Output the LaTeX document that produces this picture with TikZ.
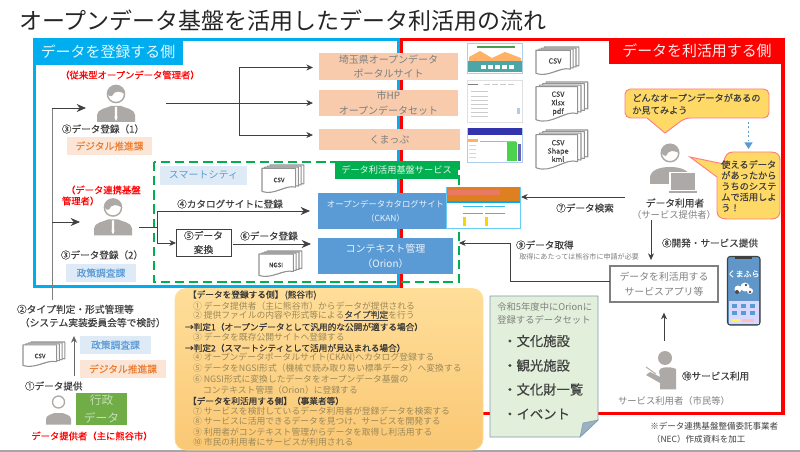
\documentclass[tikz,border=0pt]{standalone}
\usepackage{fontspec}
\setmainfont{Noto Sans CJK JP}
\newfontface\medf[FakeBold=0.35]{Noto Sans CJK JP}
\usetikzlibrary{arrows.meta,calc}
\definecolor{frameblue}{HTML}{00AEEF}
\definecolor{framered}{HTML}{FF0000}
\definecolor{peach}{HTML}{F7CBAC}
\definecolor{paleorange}{HTML}{FBE5D6}
\definecolor{paleblue}{HTML}{DEEBF7}
\definecolor{midblue}{HTML}{5B9BD5}
\definecolor{dkorange}{HTML}{ED7D31}
\definecolor{cgreen}{HTML}{00B050}
\definecolor{iconGray}{HTML}{ADA9A7}
\definecolor{txt}{HTML}{404040}
\definecolor{softtxt}{HTML}{7F7F7F}
\definecolor{paneltxt}{HTML}{9C8858}
\definecolor{bubble}{HTML}{FFD966}
\definecolor{bubbleedge}{HTML}{FF7C80}
\definecolor{panTop}{HTML}{FFDE99}
\definecolor{panBot}{HTML}{FAC875}
\definecolor{noteFill}{HTML}{E2EFDA}
\definecolor{noteEdge}{HTML}{7F9DB0}
\definecolor{adminGreen}{HTML}{70AD47}
\newcommand\fz[2]{\fontsize{#1}{#2}\selectfont}
\tikzset{
  sz/.style 2 args={minimum width=#1*0.75pt,minimum height=#2*0.75pt,inner sep=0pt,outer sep=0pt},
  peachbox/.style={fill=peach,align=center,text=softtxt,font=\fz{7.5}{11}},
  cblue/.style={fill=midblue,align=center,text=white!88!midblue,font=\fz{7}{10.5}},
  lbl/.style={inner sep=0pt,outer sep=0pt,text=txt,font=\fz{7.2}{10}\medf},
  redlbl/.style={inner sep=0pt,outer sep=0pt,text=framered,font=\fz{7}{10}\medf,align=left},
  deptblue/.style={fill=paleblue,text=midblue,font=\fz{7.3}{10}\medf},
  deptorange/.style={fill=paleorange,text=dkorange,font=\fz{7.3}{10}\medf},
  pline/.style={inner sep=0pt,outer sep=0pt,anchor=west,text=paneltxt,font=\fz{6.6}{8}},
  phead/.style={inner sep=0pt,outer sep=0pt,anchor=west,text=txt!85!black,font=\fz{6.5}{8}\medf},
  conn/.style={draw=txt,line width=0.6pt},
  arr/.style={conn,-{Stealth[length=5pt,width=4.5pt]}},
  bigarr/.style={conn,-{Stealth[length=7pt,width=6pt]}},
}
% stack of documents: x, y, w, h of the whole stack
\newcommand\docstack[4]{%
 \begin{scope}[shift={(#1,#2)},xscale=#3,yscale=#4]
  \foreach \i in {3,2,1,0}{
   \draw[fill=white,draw=gray!85,line width=0.8pt,line join=round]
     ($(0,0.12)+\i*(0.065,-0.04)$) -- ($(0.8,0.12)+\i*(0.065,-0.04)$) -- ($(0.8,0.82)+\i*(0.065,-0.04)$)
     .. controls ($(0.55,0.72)+\i*(0.065,-0.04)$) and ($(0.3,1.14)+\i*(0.065,-0.04)$) .. ($(0,0.98)+\i*(0.065,-0.04)$) -- cycle;
  }
 \end{scope}}
% business person
\newcommand\suitman[2]{%
 \begin{scope}[shift={(#1,#2)}]
  \fill[iconGray] (-19,28) -- (-19,21) .. controls (-19,15) and (-9,14) .. (-5,12) -- (5,12) .. controls (9,14) and (19,15) .. (19,21) -- (19,28) -- cycle;
  \fill[white] (-1,13) -- (1,13) -- (1.3,24) -- (0,27) -- (-1.3,24) -- cycle;
  \draw[fill=white,draw=iconGray,line width=1.1pt] (0,0) circle (8.6);
  \fill[iconGray] (-8.6,0) arc (180:360:8.6) .. controls (5,-3) and (-2,-4) .. (-4,2) .. controls (-5,3) and (-7,2) .. cycle;
 \end{scope}}
\begin{document}
\begin{tikzpicture}[x=0.75pt,y=-0.75pt]
\useasboundingbox (0,0) rectangle (800,452);
\fill[white] (0,0) rectangle (800,452);
\fill[gray!70] (0,450.3) rectangle (800,452);

% title
\node[inner sep=0pt,anchor=west,text=black!85,font=\fz{17.25}{20}] (title) at (19,21) {オープンデータ基盤を活用したデータ利活用の流れ};

% frames
\draw[framered,line width=2.3pt] (401,39.5) rectangle (783,413.5);
\draw[frameblue,line width=2.3pt] (34.5,39.5) rectangle (398.5,286.5);
\node[sz={150}{27},fill=frameblue,anchor=north west,text=white!90!frameblue,font=\fz{11.2}{14}] (regside) at (33,38) {データを登録する側};
\node[sz={176}{26},fill=framered,anchor=north east,text=white!92!red,font=\fz{11.2}{14}] (useside) at (785,38) {データを利活用する側};

% portal boxes
\node[sz={139}{27},peachbox] (portal) at (388.5,66.5) {埼玉県オープンデータ\\ポータルサイト};
\node[sz={139}{26},peachbox] (cityhp) at (388.5,103) {市HP\\オープンデータセット};
\node[sz={141}{21},peachbox] (kuma) at (389.5,139.5) {くまっぷ};

% thumbnails
\draw[fill=white,draw=midblue!50,line width=0.5pt] (467,43) rectangle (522,73);
\fill[green!45!black!70] (477,46) rectangle (515,48);
\fill[orange!60] (469,57) -- (480,51) -- (492,58) -- (505,52) -- (521,58) -- (521,61) -- (469,61) -- cycle;
\fill[teal!70] (467.5,61) rectangle (521.5,72.5);
\foreach \xx in {481,488,495,502,509} \fill[white] (\xx,65) rectangle ++(5,4);
\draw[fill=white,draw=gray!25,line width=0.4pt] (467,80) rectangle (522,122);
\fill[black!50] (468,84) rectangle (478,85.5);
\foreach \yy in {91,96,100,104,108,112,116} \fill[gray!40] (471,\yy) rectangle (488,\yy+1);
\foreach \xx in {484,492,500,508} \fill[gray!40] (\xx,84) rectangle ++(6,1);
\fill[midblue!50] (517,108) rectangle (520,114);
\draw[fill=white,draw=midblue!50,line width=0.5pt] (467,128) rectangle (522,162);
\fill[blue!60!black!80] (467.5,128.5) rectangle (521.5,135);
\fill[orange!60] (468,139) rectangle (478,142);
\foreach \yy in {145,149,153,157} \fill[yellow!40!gray!50] (469,\yy) rectangle (476,\yy+1.5);
\fill[green!75!black!70] (507,142) rectangle (517,161);
\fill[gray!60] (480,141) rectangle (516,142);
\fill[blue!50!black!60] (518,144) rectangle (521,161);

% doc stacks
\docstack{536}{47}{43}{27}
\node[inner sep=0pt,text=txt,font=\fz{5.4}{7}\medf] (d1) at (555,61) {CSV};
\docstack{536}{82}{52}{38.5}
\node[inner sep=0pt,text=txt,align=center,font=\fz{5.4}{6.4}\medf] (d2) at (558,103.5) {CSV\\Xlsx\\pdf};
\docstack{536}{130}{52}{38.5}
\node[inner sep=0pt,text=txt,align=center,font=\fz{5.4}{6.2}\medf] (d3) at (558,151) {CSV\\Shape\\kml};

% registrant 1
\node[redlbl] (r1) at (130,75) {（従来型オープンデータ管理者）};
\suitman{116}{94}
\coordinate (p1in) at (86,108);
\coordinate (p1out) at (166,103);
\coordinate (j1) at (239,103);
\node[lbl] (s31) at (103,129) {③データ登録（1）};
\node[sz={85}{18},deptorange] (dept1) at (109.5,146) {デジタル推進課};
\coordinate (a1) at (313,67.5);
\coordinate (a2) at (313,103);
\coordinate (a3) at (313,135);
\coordinate (j1t) at (239,67.5);
\coordinate (j1b) at (239,135);
\draw[conn] (p1out) -- (j1);
\draw[arr] (j1t) -- (a1);
\draw[arr] (j1) -- (a2);
\draw[arr] (j1b) -- (a3);
\draw[conn] (j1t) -- (j1b);

% smart city frame
\draw[cgreen,line width=1.5pt,dash pattern=on 7pt off 3.6pt] (154,162) rectangle (458.5,282.5);
\node[sz={123}{18},fill=cgreen,anchor=north west,text=white!90!cgreen,font=\fz{6.9}{9}] (base) at (335,161) {データ利活用基盤サービス};
\node[sz={87}{19},fill=paleblue,text=midblue,font=\fz{7.5}{10}] (smart) at (203.5,175.5) {スマートシティ};
\docstack{262}{165}{42}{27}
\node[inner sep=0pt,text=txt,font=\fz{4.6}{6}\medf] (d4) at (279,180) {CSV};
\docstack{259}{251}{43}{25}
\node[inner sep=0pt,text=txt,font=\fz{4.6}{6}\medf] (d5) at (276,265) {NGSI};

% registrant 2
\node[redlbl,anchor=west] (r2a) at (66,190) {（データ連携基盤};
\node[redlbl,anchor=west] (r2b) at (62,201) {管理者）};
\suitman{113}{207.5}
\coordinate (p2in) at (80,222);
\coordinate (p2out) at (139,227);
\coordinate (j2) at (157,227);
\node[lbl] (s32) at (102,255) {③データ登録（2）};
\node[sz={70}{18},deptblue] (dept2) at (101,273) {政策調査課};

% central boxes
\node[sz={135}{36},cblue,font=\fz{6.3}{10.5}] (ckan) at (385.5,211.5) {オープンデータカタログサイト\\（CKAN）};
\node[sz={135}{36},cblue,font=\fz{7.5}{11}] (orion) at (385.5,256.5) {コンテキスト管理\\（Orion）};
\node[sz={55}{27},draw=txt,line width=0.6pt,fill=white,align=center,text=txt,font=\fz{7.3}{10.5}\medf] (conv) at (203.5,242.5) {⑤データ\\変換};
\coordinate (j2t) at (157,211);
\coordinate (j2b) at (157,243);
\draw[conn] (p2out) -- (j2);
\draw[conn] (j2t) -- (j2b);
\draw[bigarr,shorten >=6pt] (j2t) -- (ckan.west |- j2t);
\draw[arr] (j2b) -- (conv.west |- j2b);
\coordinate (c6) at (233,244);
\coordinate (c6e) at (311,244);
\draw[bigarr] (c6) -- (c6e);
\node[lbl] (s4) at (230,204) {④カタログサイトに登録};
\node[lbl] (s6) at (269,236) {⑥データ登録};

% ckan thumb
\node[sz={74}{41},draw=frameblue!60,line width=0.6pt,fill=white] (ckanimg) at (483,207.5) {};
\fill[orange!50!brown] (446.5,187.5) rectangle (519.5,201);
\fill[red!50!brown!70] (448,190) rectangle (500,195);
\fill[frameblue] (446.5,201) rectangle (519.5,203);
\foreach \xx in {463,485} {\fill[frameblue!80] (\xx,206) rectangle ++(20,1.5); \fill[frameblue!80] (\xx,213) rectangle ++(20,1.5);
 \fill[yellow!70!orange] (\xx,217) rectangle ++(3,9);}

% left trunk
\coordinate (trunk) at (52,300);
\coordinate (trunkm) at (52,222);
\coordinate (trunkt) at (52,108);
\draw[draw=softtxt,line width=0.6pt] (trunk) -- (trunkt);
\draw[bigarr] (trunkt) -- (p1in);
\draw[bigarr] (trunkm) -- (p2in);

% lower left
\node[lbl,anchor=west,align=left,font=\fz{7.3}{10}\medf] (s2) at (17,316) {②タイプ判定・形式管理等\\\hspace*{0.3em}（システム実装委員会等で検討）};
\docstack{23}{342}{42}{24}
\node[inner sep=0pt,text=txt,font=\fz{4.6}{6}\medf] (d6) at (40,356) {CSV};
\coordinate (up1) at (74,376);
\coordinate (up2) at (74,336);
\draw[arr,draw=softtxt!80!black] (up1) -- (up2);
\node[sz={71}{18},deptblue] (dept3) at (115.5,345) {政策調査課};
\node[sz={86}{18},deptorange] (dept4) at (123,369) {デジタル推進課};
\node[lbl,anchor=west] (s1) at (25,386) {①データ提供};
\begin{scope}[shift={(58.5,402)}]
 \fill[iconGray] (-12.5,22.5) -- (-12.5,17) .. controls (-12.5,13) and (-6,12) .. (-4,11) -- (4,11) .. controls (6,12) and (12.5,13) .. (12.5,17) -- (12.5,22.5) -- cycle;
 \draw[fill=white,draw=iconGray,line width=1pt] (0,0) circle (6);
\end{scope}
\node[sz={51}{32},fill=adminGreen,text=white!60!adminGreen,align=center,font=\fz{8.8}{13}] (gyosei) at (101.5,409) {行政\\データ};
\node[redlbl] (prov) at (92,436) {データ提供者（主に熊谷市）};

% explanation panel
\draw[rounded corners=8pt,draw=panTop,line width=0.4pt,top color=panTop,bottom color=panBot] (175,288.5) rectangle (483,450);
\node[phead] (l1) at (188,295) {【データを登録する側】\,(熊谷市)};
\node[pline] (l2) at (193,306) {① データ提供者（主に熊谷市）からデータが提供される};
\node[pline] (l3) at (193,316) {② 提供ファイルの内容や形式等による\textcolor{txt}{\underline{\medf タイプ判定}}を行う};
\node[phead] (l4) at (185,327) {→判定1（オープンデータとして汎用的な公開が適する場合）};
\node[pline] (l5) at (193,337) {③ データを既存公開サイトへ登録する};
\node[phead] (l6) at (185,348) {→判定2（スマートシティとして活用が見込まれる場合）};
\node[pline] (l7) at (193,358) {④ オープンデータポータルサイト(CKAN)へカタログ登録する};
\node[pline] (l8) at (193,368) {⑤ データをNGSI形式（機械で読み取り易い標準データ）へ変換する};
\node[pline] (l9) at (193,379) {⑥ NGSI形式に変換したデータをオープンデータ基盤の};
\node[pline] (l10) at (203,390) {コンテキスト管理（Orion）に登録する};
\node[phead] (l11) at (188,401) {【データを利活用する側】（事業者等）};
\node[pline] (l12) at (193,411) {⑦ サービスを検討しているデータ利用者が登録データを検索する};
\node[pline] (l13) at (193,421) {⑧ サービスに活用できるデータを見つけ、サービスを開発する};
\node[pline] (l14) at (193,432) {⑨ 利用者がコンテキスト管理からデータを取得し利活用する};
\node[pline] (l15) at (193,442) {⑩ 市民の利用者にサービスが利用される};

% note sheet
\draw[fill=noteFill,draw=noteEdge,line width=0.7pt] (490,296) -- (598,296) -- (598,420) -- (580,437) -- (490,437) -- cycle;
\draw[fill=noteEdge!80,draw=noteEdge,line width=0.4pt] (598,420) -- (580,437) -- (583,423) -- cycle;
\node[inner sep=0pt,anchor=west,align=left,text=softtxt,font=\fz{7}{10}] (n1) at (497,313.5) {令和5年度中にOrionに\\登録するデータセット};
\node[inner sep=0pt,anchor=west,text=txt,font=\fz{10}{12}\medf] (n2) at (503,341) {・文化施設};
\node[inner sep=0pt,anchor=west,text=txt,font=\fz{10}{12}\medf] (n3) at (503,365.5) {・観光施設};
\node[inner sep=0pt,anchor=west,text=txt,font=\fz{10}{12}\medf] (n4) at (503,389.5) {・文化財一覧};
\node[inner sep=0pt,anchor=west,text=txt,font=\fz{10}{12}\medf] (n5) at (503,414) {・イベント};

% user side
\begin{scope}[shift={(670,153)}]
 \fill[iconGray] (-20,31) -- (-20,25) .. controls (-20,17) and (-10,14) .. (0,14) .. controls (10,14) and (20,17) .. (20,25) -- (20,31) -- cycle;
 \draw[fill=white,draw=iconGray,line width=1.1pt] (0,0) circle (8.8);
 \fill[iconGray] (-8.8,0) arc (180:360:8.8) .. controls (4,-3) and (-2,-3) .. (-4,3) .. controls (-6,3) and (-7,2) .. cycle;
\end{scope}
\draw[fill=iconGray,draw=white,line width=0.8pt] (670,172.5) rectangle (696,191);
\fill[iconGray] (669,191.5) rectangle (697,193);
\node[lbl,font=\fz{7.3}{10}\medf] (user) at (675,203) {データ利用者};
\node[inner sep=0pt,text=softtxt,font=\fz{7}{10}] (user2) at (674,215) {（サービス提供者）};

% bubbles
\draw[fill=bubble,draw=bubbleedge,line width=0.7pt,rounded corners=4pt] (625,89) -- (769,89) -- (769,118) -- (685,118) [sharp corners] -- (665,133) -- (647,118) [rounded corners=4pt] -- (625,118) -- cycle;
\node[inner sep=0pt,anchor=west,align=left,text=txt,font=\fz{6.9}{9.2}\medf] (b1) at (632,104) {どんなオープンデータがあるの\\か見てみよう};
\draw[fill=bubble,draw=bubbleedge,line width=0.7pt] (690,157) -- (724,164) .. controls (724,155) and (728,152) .. (733,152) -- (771,152) .. controls (777,152) and (780,155) .. (780,160) -- (780,211) .. controls (780,216) and (777,219) .. (771,219) -- (727,219) .. controls (720,219) and (717,216) .. (717,211) -- (717,177) -- cycle;
\node[inner sep=0pt,anchor=west,align=left,text=txt,font=\fz{6.9}{8.1}\medf] (b2) at (721,186) {使えるデータ\\があったから\\うちのシステ\\ムで活用しよ\\う！};
\coordinate (dot1) at (748.5,122);
\coordinate (dot2) at (748.5,149);
\draw[draw=midblue,line width=1.3pt,dotted,-{Triangle[length=5pt,width=6pt]}] (dot1) -- (dot2);

% user arrows
\coordinate (u7) at (625,197);
\coordinate (u7e) at (521,197);
\draw[arr] (u7) -- (u7e);
\node[lbl] (s7) at (585,208) {⑦データ検索};
\coordinate (u8) at (651,220);
\coordinate (u8e) at (651,260);
\draw[arr] (u8) -- (u8e);
\node[lbl] (s8) at (710,243) {⑧開発・サービス提供};
\node[sz={108}{36},draw=gray,line width=0.8pt,fill=white,align=center,text=softtxt,font=\fz{7.4}{11.3}] (app) at (664,284) {データを利活用する\\サービスアプリ等};
\coordinate (e9) at (459,243);
\coordinate (b9) at (510,281);
\draw[arr] (app.west |- b9) -- (b9) -- (b9 |- e9) -- (e9);
\node[lbl,anchor=west] (s9) at (516,245) {⑨データ取得};
\node[inner sep=0pt,anchor=west,text=softtxt,font=\fz{5.3}{7}] (s9b) at (519,257) {取得にあたっては熊谷市に申請が必要};

% phone
\draw[fill=midblue!85!gray,draw=black!75,line width=0.8pt,rounded corners=2pt] (727.5,256.5) rectangle (760,325);
\fill[black!75] (735,256.5) rectangle (752,259);
\node[inner sep=0pt,text=white,font=\fz{6}{7}\medf] (ph1) at (743.5,274) {くまふら};
\fill[white] (738,289) circle (3.5) (745,287) circle (4.5) (750,291) circle (3);
\fill[black!70] (737,292) circle (2) (746,285) circle (1.4) (750,292) circle (1.4);
\fill[white!85!blue] (728.5,301) rectangle (759,324);
\foreach \xx in {732,741,750} \foreach \yy in {304,311} \fill[midblue] (\xx,\yy) rectangle ++(5,4);
\fill[pink] (742,319) rectangle ++(12,3);
\fill[yellow!70] (732,319) rectangle ++(8,3);

% citizen
\fill[iconGray] (665,358) circle (7);
\fill[iconGray] (659,371) .. controls (659,367) and (670,366) .. (676,369) -- (676,389.5) -- (660,389.5) -- (660,383) -- (646,375) -- (650,372) -- (660,377) -- cycle;
\draw[iconGray,line width=0.7pt] (646,367) -- (656,374);
\coordinate (u10) at (664,341);
\draw[arr,shorten >=8pt] (u10) -- (app.south -| u10);
\node[lbl,anchor=west] (s10) at (682,376) {⑩サービス利用};
\node[inner sep=0pt,text=softtxt,font=\fz{7}{10}] (citizen) at (674,401) {サービス利用者（市民等）};

% credit
\node[inner sep=0pt,anchor=west,align=left,text=txt,font=\fz{6.4}{9.5}] (credit) at (650,433) {※データ連携基盤整備委託事業者\\\hspace*{0.2em}（NEC）作成資料を加工};
\end{tikzpicture}
\end{document}
